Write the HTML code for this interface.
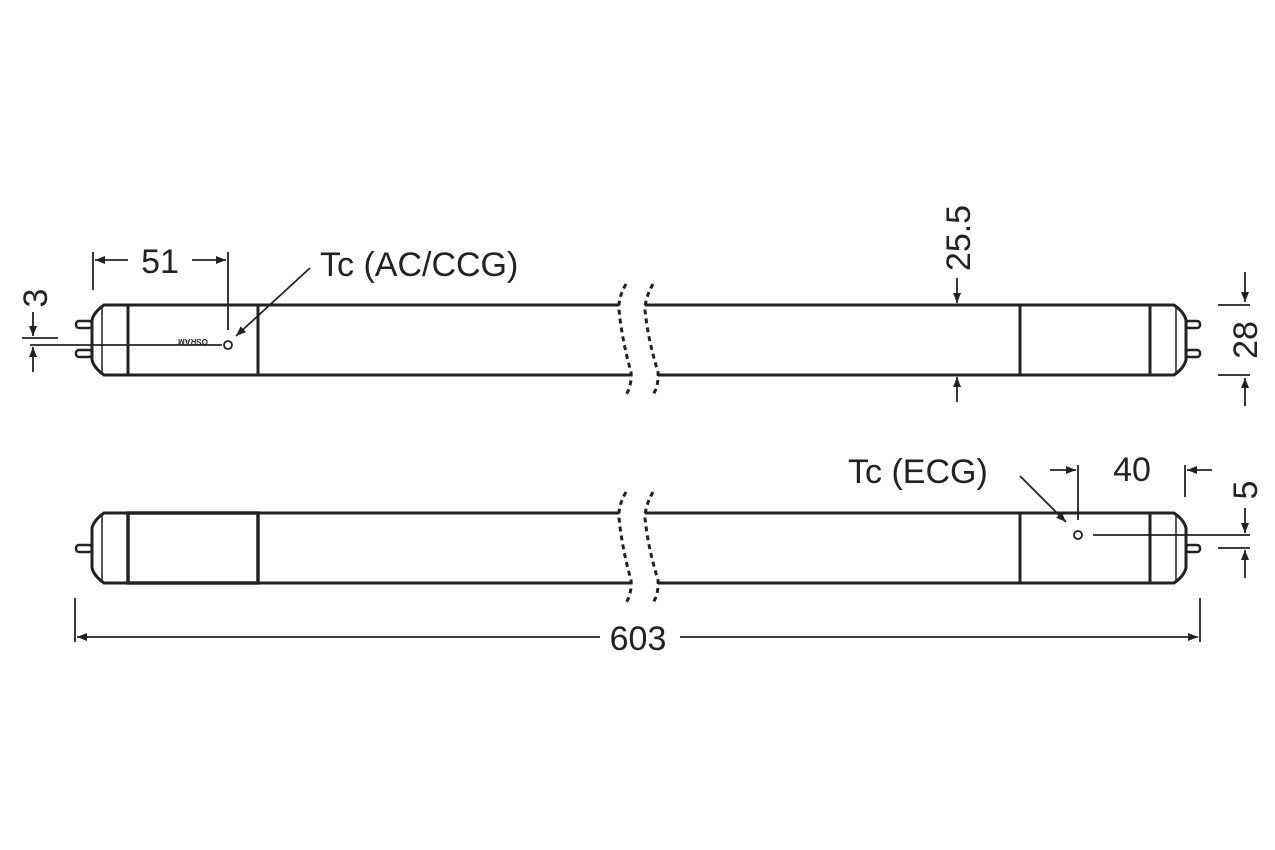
<!DOCTYPE html>
<html><head><style>body{margin:0;background:#fff}svg{display:block}text{font-family:"Liberation Sans",sans-serif;fill:#222}</style></head>
<body>
<svg width="1275" height="850" viewBox="0 0 1275 850" xmlns="http://www.w3.org/2000/svg">
<defs>
<marker id="a" viewBox="0 0 10 10" refX="10" refY="5" markerWidth="10" markerHeight="10" markerUnits="userSpaceOnUse" orient="auto"><path d="M0,1 L10,5 L0,9z" fill="#222"/></marker>
</defs>
<g stroke="#222" fill="none">
<!-- top tube -->
<g stroke-width="3">
<path d="M128,305 H619 M645,305 H1020 M128,375 H631 M658,375 H1020"/>
<rect x="128" y="305" width="130" height="70" fill="#fff"/>
<rect x="1020" y="305" width="130" height="70" fill="#fff"/>
<path d="M128,305 H104 Q94,312 92,320 V360 Q94,368 104,375 H128"/>
<path d="M1150,305 H1174 Q1184,312 1186,320 V360 Q1184,368 1174,375 H1150"/>
<rect x="76" y="321" width="16" height="7" rx="3" stroke-width="2.5"/>
<rect x="76" y="350" width="16" height="7" rx="3" stroke-width="2.5"/>
<rect x="1186" y="321" width="14" height="7" rx="3" stroke-width="2.5"/>
<rect x="1186" y="350" width="14" height="7" rx="3" stroke-width="2.5"/>
</g>
<path d="M102,307 V373 M1176,307 V373" stroke-width="1.5"/>
<!-- bottom tube -->
<g stroke-width="3">
<path d="M128,513 H619 M645,513 H1020 M128,583 H631 M658,583 H1020"/>
<rect x="128" y="513" width="130" height="70" fill="#fff" stroke-width="3.5"/>
<rect x="1020" y="513" width="130" height="70" fill="#fff"/>
<path d="M128,513 H104 Q94,520 92,528 V568 Q94,576 104,583 H128"/>
<path d="M1150,513 H1174 Q1184,520 1186,528 V568 Q1184,576 1174,583 H1150"/>
<rect x="76" y="545" width="16" height="7" rx="3" stroke-width="2.5"/>
<rect x="1186" y="545" width="14" height="7" rx="3" stroke-width="2.5"/>
</g>
<path d="M102,515 V581 M1176,515 V581" stroke-width="1.5"/>
<!-- breaks -->
<g stroke-width="3" stroke-dasharray="5,4">
<path d="M626,284 Q618,298 619,310 Q622,340 631,372 Q632,385 626,395"/>
<path d="M653,284 Q645,298 645,310 Q648,340 658,372 Q659,385 653,395"/>
<path d="M626,492 Q618,506 619,518 Q622,548 631,580 Q632,593 626,603"/>
<path d="M653,492 Q645,506 645,518 Q648,548 658,580 Q659,593 653,603"/>
</g>
<!-- dims -->
<g stroke-width="1.8">
<path d="M75,598 V642 M1200,598 V642"/>
<path d="M600,637 H77" marker-end="url(#a)"/><path d="M680,637 H1198" marker-end="url(#a)"/>
<path d="M93,252 V290 M228,252 V330"/>
<path d="M128,260 H95" marker-end="url(#a)"/><path d="M192,260 H226" marker-end="url(#a)"/>
<path d="M310,268 L236,336" marker-end="url(#a)"/>
<circle cx="228" cy="345" r="4"/>
<path d="M30,345 H222"/>
<path d="M22,338 H58"/>
<path d="M33,312 V336" marker-end="url(#a)"/><path d="M33,372 V347" marker-end="url(#a)"/>
<path d="M957,278 V303" marker-end="url(#a)"/><path d="M957,402 V377" marker-end="url(#a)"/>
<path d="M1218,305 H1250 M1218,375 H1250"/>
<path d="M1245,272 V302" marker-end="url(#a)"/><path d="M1245,406 V378" marker-end="url(#a)"/>
<path d="M1020,476 L1066,522" marker-end="url(#a)"/>
<circle cx="1078" cy="535" r="4"/>
<path d="M1078,465 V520 M1185,465 V497"/>
<path d="M1050,470 H1076" marker-end="url(#a)"/><path d="M1212,470 H1187" marker-end="url(#a)"/>
<path d="M1093,535 H1250 M1218,548 H1250"/>
<path d="M1245,508 V533" marker-end="url(#a)"/><path d="M1245,578 V550" marker-end="url(#a)"/>
</g>
</g>
<text x="193" y="345" font-size="8" text-anchor="middle" transform="rotate(180 193 342)" font-weight="bold">OSRAM</text>
<text x="638" y="650" font-size="34" text-anchor="middle">603</text>
<text x="160" y="273" font-size="34" text-anchor="middle">51</text>
<text x="320" y="276" font-size="34">Tc (AC/CCG)</text>
<text x="848" y="483" font-size="34">Tc (ECG)</text>
<text x="1132" y="481" font-size="34" text-anchor="middle">40</text>
<text transform="translate(47,298) rotate(-90)" font-size="34" text-anchor="middle">3</text>
<text transform="translate(970,238) rotate(-90)" font-size="34" text-anchor="middle">25.5</text>
<text transform="translate(1257,340) rotate(-90)" font-size="34" text-anchor="middle">28</text>
<text transform="translate(1257,490) rotate(-90)" font-size="34" text-anchor="middle">5</text>
</svg>
</body></html>
